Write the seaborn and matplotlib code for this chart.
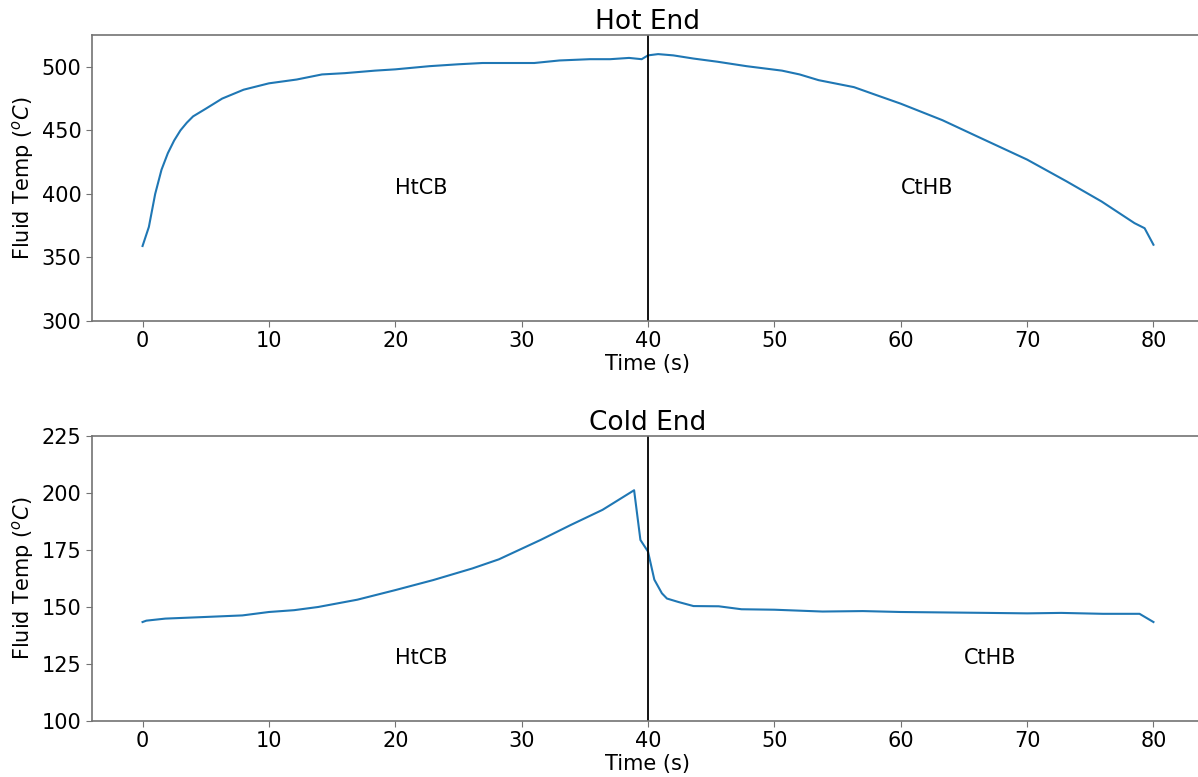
import matplotlib
matplotlib.use("Agg")
import matplotlib.pyplot as plt
import seaborn as sns
import pandas as pd

# Hot-end fluid temperature over one full cycle (HtCB then CtHB)
hot_time = [0, 0.5, 1.0, 1.5, 2.0, 2.5, 3.0, 3.5, 4, 5, 6.3, 8, 10, 12.2,
            14.2, 16, 18.4, 20, 22.7, 25, 26.9, 29, 31, 33, 35.4, 37, 38.5,
            39.5, 40, 40.8, 42, 43.6, 45.5, 47.8, 50.6, 52, 53.5, 56.3, 58,
            60, 63.3, 66.1, 70, 73.1, 75.9, 78.5, 79.3, 80]
hot_temp = [359, 374, 400, 419, 432, 442, 450, 456, 461, 467, 475, 482, 487,
            490, 494, 495, 497, 498, 500.5, 502, 503, 503, 503, 505, 506, 506,
            507, 506, 509, 510, 509, 506.5, 504, 500.5, 497, 494, 489.5, 484,
            478, 471, 458, 445, 427, 410, 394, 377, 373, 360]

# Cold-end fluid temperature over the same cycle
cold_time = [0, 0.3, 1.8, 4.9, 7.9, 10, 12, 13.9, 17, 20, 23, 26.1, 28.2,
             31.5, 33.9, 36.4, 38.9, 39.4, 40, 40.5, 41.1, 41.5, 42.4, 43.6,
             45.6, 47.4, 50, 53.8, 57, 60, 63.5, 66.9, 70, 72.7, 76, 78.9, 80]
cold_temp = [143.4, 144, 144.9, 145.6, 146.3, 147.8, 148.6, 150, 153.2, 157.4,
             161.8, 166.9, 170.9, 179.4, 186, 192.6, 201.2, 179.4, 174.3, 162,
             156, 153.7, 152.2, 150.4, 150.3, 149, 148.8, 148, 148.2, 147.8,
             147.6, 147.4, 147.2, 147.4, 147, 147, 143.4]

phase_labels = ["HtCB", "CtHB"]
switch_time = 40

hot_df = pd.DataFrame({"Time": hot_time, "Temp": hot_temp})
cold_df = pd.DataFrame({"Time": cold_time, "Temp": cold_temp})

fig = plt.figure(figsize=(11.98, 7.77), dpi=100)
ax_hot = fig.add_axes([0.0768, 0.5869, 0.9282, 0.368])
ax_cold = fig.add_axes([0.0768, 0.0721, 0.9282, 0.3668])

FS = 15
spine_col = "0.45"


def style(ax, title, ylim, yticks):
    ax.set_title(title, fontsize=19, pad=4)
    ax.set_xlabel("Time (s)", fontsize=FS, labelpad=2)
    ax.set_ylabel(r"Fluid Temp ($^oC$)", fontsize=FS)
    ax.set_xlim(-4, 84)
    ax.set_ylim(*ylim)
    ax.set_xticks(range(0, 81, 10))
    ax.set_yticks(yticks)
    ax.tick_params(labelsize=FS, color=spine_col, length=4)
    for s in ax.spines.values():
        s.set_color(spine_col)
        s.set_linewidth(1.2)


sns.lineplot(data=hot_df, x="Time", y="Temp", ax=ax_hot, color="#1f77b4",
             linewidth=1.5)
ax_hot.axvline(switch_time, color="black", linewidth=1.3)
ax_hot.text(20, 400, phase_labels[0], fontsize=FS)
ax_hot.text(60, 400, phase_labels[1], fontsize=FS)
style(ax_hot, "Hot End", (300, 525), range(300, 501, 50))

sns.lineplot(data=cold_df, x="Time", y="Temp", ax=ax_cold, color="#1f77b4",
             linewidth=1.5)
ax_cold.axvline(switch_time, color="black", linewidth=1.3)
ax_cold.text(20, 125, phase_labels[0], fontsize=FS)
ax_cold.text(65, 125, phase_labels[1], fontsize=FS)
style(ax_cold, "Cold End", (100, 225), range(100, 226, 25))

fig.savefig("out.png", dpi=100)
